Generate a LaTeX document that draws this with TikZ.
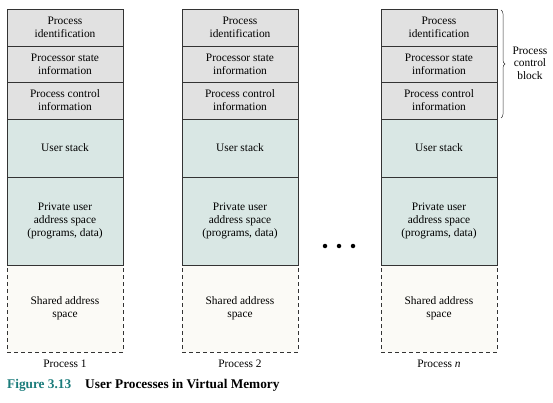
\documentclass[tikz,border=0pt]{standalone}
\usepackage{fontspec}
\setmainfont{Liberation Serif}
\usetikzlibrary{decorations.pathreplacing}
\definecolor{pcbgray}{HTML}{E1E1E1}
\definecolor{usrteal}{HTML}{D9E7E4}
\definecolor{shrd}{HTML}{FBFAF6}
\definecolor{edge}{HTML}{333333}
\definecolor{figteal}{HTML}{1B7C7B}
\begin{document}
\begin{tikzpicture}[x=1pt,y=-1pt,
  cell/.style={draw=edge, line width=0.7pt, minimum width=116pt, inner sep=0pt, align=center,
    font=\fontsize{11.4}{13}\selectfont},
  pcb/.style={cell, fill=pcbgray},
  usr/.style={cell, fill=usrteal},
  shr/.style={cell, fill=shrd, dashed, dash pattern=on 4pt off 3pt},
  plabel/.style={font=\fontsize{11.4}{13}\selectfont},
  dotst/.style={fill=black, circle, inner sep=0pt, minimum size=4.5pt}
]
\useasboundingbox (0,0) rectangle (553,403);
\foreach \i/\x in {1/65, 2/240, 3/439} {
  \node[shr, minimum height=87pt] (c\i r6) at (\x, 308.5) {Shared address\\space};
  \node[pcb, minimum height=37pt] (c\i r1) at (\x, 27.5) {Process\\identification};
  \node[pcb, minimum height=36pt] (c\i r2) at (\x, 64) {Processor state\\information};
  \node[pcb, minimum height=37pt] (c\i r3) at (\x, 100.5) {Process control\\information};
  \node[usr, minimum height=58pt] (c\i r4) at (\x, 148) {User stack};
  \node[usr, minimum height=88pt] (c\i r5) at (\x, 221) {Private user\\address space\\(programs, data)};
}
\node[plabel] (p1) at (65, 364) {Process 1};
\node[plabel] (p2) at (240, 364) {Process 2};
\node[plabel] (p3) at (439, 364) {Process \textit{n}};
\node[dotst] (d1) at (325, 246) {};
\node[dotst] (d2) at (339, 246) {};
\node[dotst] (d3) at (353, 246) {};
\coordinate (bt) at (501, 10);
\coordinate (bb) at (501, 118);
\draw[edge, line width=0.5pt, decorate, decoration={brace, amplitude=4pt}] (bt) -- (bb);
\node[align=center, font=\fontsize{11.4}{12.5}\selectfont] (pcbl) at (530, 63) {Process\\control\\block};
\node[anchor=west, inner sep=0pt, font=\fontsize{13.3}{15}\selectfont\bfseries] (cap) at (7, 385)
  {\textcolor{figteal}{Figure 3.13}\hspace{14pt}User Processes in Virtual Memory};
\end{tikzpicture}
\end{document}
